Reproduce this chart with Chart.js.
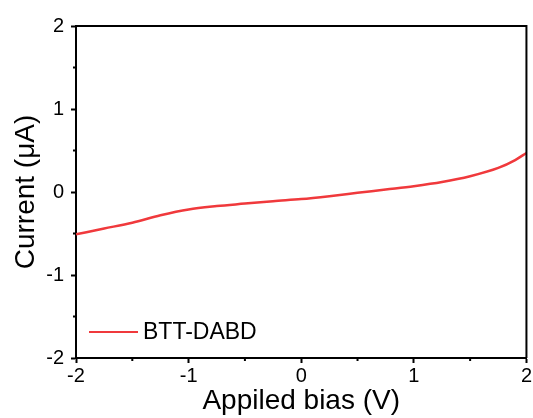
<!DOCTYPE html>
<html>
<head>
<meta charset="utf-8">
<script src="https://cdn.jsdelivr.net/npm/chart.js@4/dist/chart.umd.min.js"></script>
<style>
    html, body { margin: 0; padding: 0; background: #fff; }
    #wrap { width: 533px; height: 418px; }
</style>
</head>
<body>
<div id="wrap"><canvas id="ivChart" width="533" height="418"></canvas></div>
<script>
// I-V sweep, bias in V, current in uA
const biasV = [-2, -1.75, -1.5, -1.25, -1, -0.75, -0.5, -0.25, 0, 0.25, 0.5, 0.75, 1, 1.25, 1.5, 1.75, 1.9, 2];
const currentUA = [-0.51, -0.44, -0.37, -0.28, -0.21, -0.17, -0.14, -0.11, -0.085, -0.05, -0.01, 0.03, 0.07, 0.12, 0.19, 0.29, 0.385, 0.47];
const minorX = [-1.5, -0.5, 0.5, 1.5];
const minorY = [-1.5, -0.5, 0.5, 1.5];
const seriesName = 'BTT-DABD';
const lineColor = '#f0393c';
const FONT = "'Liberation Sans', Arial, sans-serif";

// minor ticks, box frame and the in-plot legend
const framePlugin = {
    id: 'frame',
    afterDraw(chart) {
        const ctx = chart.ctx;
        const a = chart.chartArea;
        const xs = chart.scales.x, ys = chart.scales.y;
        ctx.save();
        ctx.strokeStyle = '#000';
        ctx.lineWidth = 2;
        ctx.beginPath();
        ctx.moveTo(a.left, a.top);
        ctx.lineTo(a.right, a.top);
        ctx.lineTo(a.right, a.bottom);
        ctx.stroke();

        ctx.beginPath();
        minorX.forEach(v => {
            const px = xs.getPixelForValue(v);
            ctx.moveTo(px, a.bottom);
            ctx.lineTo(px, a.bottom + 3);
        });
        minorY.forEach(v => {
            const py = ys.getPixelForValue(v);
            ctx.moveTo(a.left, py);
            ctx.lineTo(a.left - 3, py);
        });
        ctx.stroke();

        // legend
        const ly = 332;
        ctx.strokeStyle = lineColor;
        ctx.lineWidth = 2;
        ctx.beginPath();
        ctx.moveTo(89, ly);
        ctx.lineTo(138, ly);
        ctx.stroke();
        ctx.fillStyle = '#000';
        ctx.font = '23px ' + FONT;
        ctx.textBaseline = 'middle';
        ctx.textAlign = 'left';
        ctx.fillText(chart.data.datasets[0].label, 143, ly + 1);
        ctx.restore();
    }
};

new Chart(document.getElementById('ivChart'), {
    type: 'line',
    data: {
        datasets: [{
            label: seriesName,
            data: biasV.map((v, i) => ({ x: v, y: currentUA[i] })),
            borderColor: lineColor,
            borderWidth: 2.5,
            pointRadius: 0,
            cubicInterpolationMode: 'monotone',
            fill: false
        }]
    },
    options: {
        responsive: false,
        animation: false,
        layout: { padding: { left: 0, right: 5, top: 26, bottom: 0 } },
        plugins: {
            legend: { display: false },
            tooltip: { enabled: false }
        },
        scales: {
            x: {
                type: 'linear',
                min: -2,
                max: 2,
                afterFit: s => { s.height = 60; },
                border: { display: true, color: '#000', width: 2 },
                grid: { drawOnChartArea: false, drawTicks: true, tickLength: 5, color: '#000', tickWidth: 2 },
                ticks: { stepSize: 1, color: '#000', padding: 1, font: { family: FONT, size: 20 } },
                title: { display: true, text: 'Appiled bias (V)', color: '#000', padding: { top: 0, bottom: 0 }, font: { family: FONT, size: 28 } }
            },
            y: {
                min: -2,
                max: 2,
                afterFit: s => { s.width = 76; },
                border: { display: true, color: '#000', width: 2 },
                grid: { drawOnChartArea: false, drawTicks: true, tickLength: 5, color: '#000', tickWidth: 2 },
                ticks: { stepSize: 1, color: '#000', padding: 7, font: { family: FONT, size: 20 } },
                title: { display: true, text: 'Current (μA)', color: '#000', padding: { top: 9, bottom: 0 }, font: { family: FONT, size: 28 } }
            }
        }
    },
    plugins: [framePlugin]
});
</script>
</body>
</html>
